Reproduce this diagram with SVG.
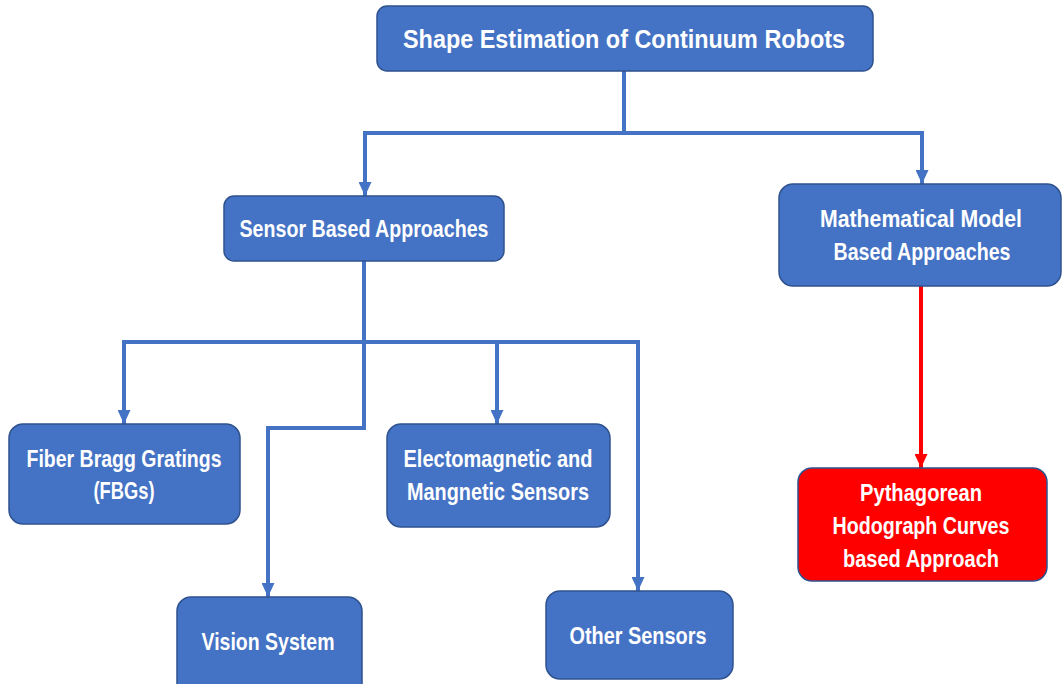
<svg xmlns="http://www.w3.org/2000/svg" width="1062" height="684" viewBox="0 0 1062 684">
<defs>
<marker id="ab" markerUnits="userSpaceOnUse" markerWidth="14" markerHeight="13" refX="14" refY="6.5" orient="auto" viewBox="0 0 14 13"><path d="M0,0 L14,6.5 L0,13 z" fill="#4472C4"/></marker>
<marker id="ar" markerUnits="userSpaceOnUse" markerWidth="14" markerHeight="13" refX="14" refY="6.5" orient="auto" viewBox="0 0 14 13"><path d="M0,0 L14,6.5 L0,13 z" fill="#FF0000"/></marker>
</defs>
<style>
.box{fill:#4472C4;stroke:#2F528F;stroke-width:1.5}
.red{fill:#FF0000;stroke:#2F528F;stroke-width:1.5}
.t{font-family:"Liberation Sans",Arial,sans-serif;font-weight:bold;fill:#FFFFFF;font-size:24px;text-anchor:middle}
.c{fill:none;stroke:#4472C4;stroke-width:4;stroke-linejoin:miter}
.cr{fill:none;stroke:#FF0000;stroke-width:4}
</style>
<rect width="1062" height="684" fill="#FFFFFF"/>
<g id="connectors">
<path class="c" d="M624,71 V133 H365 V196" marker-end="url(#ab)"/>
<path class="c" d="M624,133 H922 V184" marker-end="url(#ab)"/>
<path class="c" d="M364,261 V342 H124 V424" marker-end="url(#ab)"/>
<path class="c" d="M364,342 H638 V591" marker-end="url(#ab)"/>
<path class="c" d="M497,342 V424" marker-end="url(#ab)"/>
<path class="c" d="M364,342 V428 H268 V597" marker-end="url(#ab)"/>
<path class="cr" d="M921,286 V468" marker-end="url(#ar)"/>
</g>
<g id="root">
<rect class="box" x="377" y="6" width="496" height="65" rx="10"/>
<text class="t" x="624" y="48" style="font-size:26px" textLength="442" lengthAdjust="spacingAndGlyphs">Shape Estimation of Continuum Robots</text>
</g>
<g id="sensor">
<rect class="box" x="224" y="196" width="280" height="65" rx="10"/>
<text class="t" x="364" y="237" textLength="249" lengthAdjust="spacingAndGlyphs">Sensor Based Approaches</text>
</g>
<g id="math">
<rect class="box" x="779" y="184" width="282" height="102" rx="14"/>
<text class="t" x="921" y="227" textLength="202" lengthAdjust="spacingAndGlyphs">Mathematical Model</text>
<text class="t" x="922" y="260" textLength="177" lengthAdjust="spacingAndGlyphs">Based Approaches</text>
</g>
<g id="fbg">
<rect class="box" x="9" y="424" width="231" height="100" rx="14"/>
<text class="t" x="124" y="467" textLength="195" lengthAdjust="spacingAndGlyphs">Fiber Bragg Gratings</text>
<text class="t" x="124" y="499" textLength="61" lengthAdjust="spacingAndGlyphs">(FBGs)</text>
</g>
<g id="electro">
<rect class="box" x="387" y="424" width="223" height="103" rx="14"/>
<text class="t" x="498" y="467" textLength="189" lengthAdjust="spacingAndGlyphs">Electomagnetic and</text>
<text class="t" x="498" y="500" textLength="182" lengthAdjust="spacingAndGlyphs">Mangnetic Sensors</text>
</g>
<g id="vision">
<rect class="box" x="177" y="597" width="185" height="100" rx="14"/>
<text class="t" x="268" y="650" textLength="133" lengthAdjust="spacingAndGlyphs">Vision System</text>
</g>
<g id="other">
<rect class="box" x="546" y="591" width="187" height="88" rx="14"/>
<text class="t" x="638" y="644" textLength="137" lengthAdjust="spacingAndGlyphs">Other Sensors</text>
</g>
<g id="ph">
<rect class="red" x="798" y="468" width="249" height="113" rx="14"/>
<text class="t" x="921" y="501" textLength="122" lengthAdjust="spacingAndGlyphs">Pythagorean</text>
<text class="t" x="921" y="534" textLength="177" lengthAdjust="spacingAndGlyphs">Hodograph Curves</text>
<text class="t" x="921" y="567" textLength="156" lengthAdjust="spacingAndGlyphs">based Approach</text>
</g>
</svg>
